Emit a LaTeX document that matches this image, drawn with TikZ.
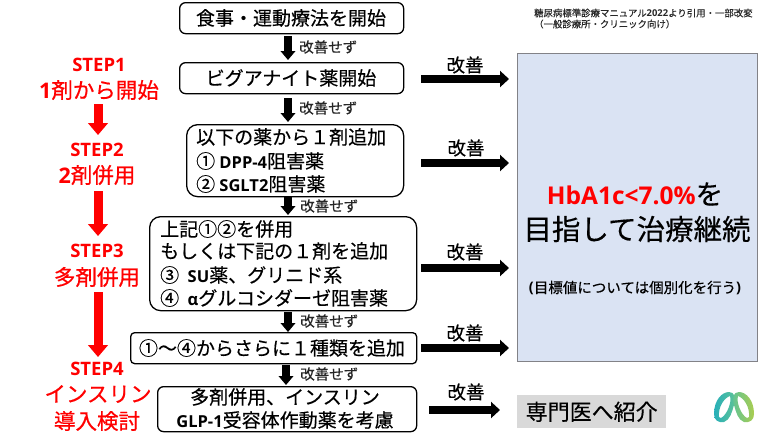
\documentclass[tikz,border=0pt]{standalone}
\usepackage{fontspec}
\setmainfont{Noto Sans CJK JP}[FakeBold=0.35]
\newfontfamily\lat{Open Sans}[BoldFont={Open Sans Bold}]
\newfontfamily\jpbold{Noto Sans CJK JP}[FakeBold=0.6]
\usetikzlibrary{arrows.meta}
\definecolor{panel}{RGB}{218,227,243}
\definecolor{panelb}{RGB}{130,130,135}
\definecolor{refer}{RGB}{217,217,217}
\definecolor{logoteal}{RGB}{40,175,185}
\definecolor{logomid}{RGB}{95,195,150}
\definecolor{logogreen}{RGB}{170,205,80}
\newcommand{\B}[1]{{\lat\bfseries #1}}
\newcommand{\LL}[1]{{\lat\bfseries\fontsize{16.5}{16.5}\selectfont #1}}
\tikzset{
  x=1pt,y=-1pt,
  flow/.style={draw=black,line width=1.3pt,rounded corners=#1,anchor=north west,inner sep=0,fill=white},
  flow/.default=6pt,
  txt/.style={font=\fontsize{19}{19}\selectfont,inner sep=0,text=black},
  lefttxt/.style={txt,anchor=west},
  gai/.style={font=\fontsize{14.5}{14.5}\selectfont,inner sep=0,anchor=west,text=black!85},
  kai/.style={font=\fontsize{18.5}{18.5}\selectfont,inner sep=0,text=black},
  redtxt/.style={font=\fontsize{21.5}{21.5}\selectfont\jpbold,inner sep=0,text=red},
  redstep/.style={font=\fontsize{18.5}{18.5}\selectfont\lat\bfseries,inner sep=0,text=red},
  down/.style={-{Triangle[length=9pt,width=14.5pt]},line width=7.5pt,black},
  reddown/.style={-{Triangle[length=12pt,width=19.5pt]},line width=9pt,red},
  right/.style={-{Triangle[length=9pt,width=16pt]},line width=8.5pt,black},
}
\begin{document}
\begin{tikzpicture}
\useasboundingbox (0,0) rectangle (768,432);
% boxes
\node[flow,minimum width=224pt,minimum height=31pt] (b1) at (179,2) {};
\node[flow,minimum width=224pt,minimum height=31pt] (b2) at (179,62) {};
\node[flow=11pt,minimum width=217pt,minimum height=72pt] (b3) at (186,124) {};
\node[flow=11pt,minimum width=267pt,minimum height=94pt] (b4) at (149,216) {};
\node[flow=4pt,minimum width=286pt,minimum height=31pt] (b5) at (130,332) {};
\node[flow=6pt,minimum width=259pt,minimum height=45pt] (b6) at (157,386) {};
% box texts
\node[txt] (t1) at (291,18) {食事・運動療法を開始};
\node[txt] (t2) at (291,78) {ビグアナイト薬開始};
\node[lefttxt] (t3a) at (196,137) {以下の薬から１剤追加};
\node[lefttxt] (t3b) at (196,161) {①\ \LL{DPP-4}阻害薬};
\node[lefttxt] (t3c) at (196,184) {②\ \LL{SGLT2}阻害薬};
\node[lefttxt] (t4a) at (160,229) {上記①②を併用};
\node[lefttxt] (t4b) at (160,251) {もしくは下記の１剤を追加};
\node[lefttxt] (t4c) at (160,275) {③\ \ \LL{SU}薬、グリニド系};
\node[lefttxt] (t4d) at (160,298) {④\ \ \LL{α}グルコシダーゼ阻害薬};
\node[txt] (t5) at (272,348) {①～④からさらに１種類を追加};
\node[txt] (t6a) at (285,397) {多剤併用、インスリン};
\node[txt] (t6b) at (285,420) {\LL{GLP-1}受容体作動薬を考慮};
% down arrows
\draw[down] (288,36) -- (288,60);
\draw[down] (288,98) -- (288,122);
\draw[down] (288,197) -- (288,215);
\draw[down] (288,312) -- (288,332);
\draw[down] (286,365) -- (286,385);
\node[gai] (g1) at (299,47) {改善せず};
\node[gai] (g2) at (299,108) {改善せず};
\node[gai] (g3) at (300,206) {改善せず};
\node[gai] (g4) at (300,321) {改善せず};
\node[gai] (g5) at (300,374) {改善せず};
% steps
\node[redstep] (s1a) at (99,65) {STEP1};
\node[redtxt] (s1b) at (99,90) {\B{1}剤から開始};
\node[redstep] (s2a) at (97,150) {STEP2};
\node[redtxt] (s2b) at (97,175) {\B{2}剤併用};
\node[redstep] (s3a) at (97,251) {STEP3};
\node[redtxt] (s3b) at (97,277) {多剤併用};
\node[redstep] (s4a) at (97,369) {STEP4};
\node[redtxt] (s4b) at (98,394) {インスリン};
\node[redtxt] (s4c) at (97,421) {導入検討};
\draw[reddown] (98,104) -- (98,135);
\draw[reddown] (98,191) -- (98,236);
\draw[reddown] (98,292) -- (98,357);
% right arrows
\foreach \n/\y/\lx/\ly in {1/79/465/65,2/163/466/148,3/268/465/252,4/348/465/333}{
  \coordinate (rs\n) at (421,\y);
  \coordinate (re\n) at (509,\y);
  \draw[right] (rs\n) -- (re\n);
  \node[kai] (k\n) at (\lx,\ly) {改善};
}
\coordinate (rs5) at (429,410);
\coordinate (re5) at (500,410);
\draw[right] (rs5) -- (re5);
\node[kai] (k5) at (466,392) {改善};
% panel
\node[draw=panelb,line width=0.8pt,fill=panel,anchor=north west,inner sep=0,minimum width=240pt,minimum height=308pt] (panel) at (517,53) {};
\node[inner sep=0,font=\fontsize{27.5}{27.5}\selectfont] (p1) at (635,194) {\textcolor{red}{\lat\bfseries\fontsize{24.5}{24.5}\selectfont HbA1c<7.0\%}を};
\node[inner sep=0,font=\fontsize{28.5}{28.5}\selectfont] (p2) at (637,229) {目指して治療継続};
\node[inner sep=0,font=\fontsize{14.5}{14.5}\selectfont] (p3) at (635,288) {\B{(}目標値については個別化を行う\B{)}};
% referral
\node[fill=refer,inner sep=0,minimum width=149pt,minimum height=33pt,anchor=north west,font=\fontsize{22}{22}\selectfont] (ref) at (517,395) {専門医へ紹介};
% source
\node[inner sep=0,anchor=west,font=\fontsize{9.4}{9.4}\selectfont,text=black!85] (src1) at (534,13) {糖尿病標準診療マニュアル\B{2022}より引用・一部改変};
\node[inner sep=0,anchor=west,font=\fontsize{9.4}{9.4}\selectfont,text=black!85] (src2) at (534,24) {（一般診療所・クリニック向け）};
% logo
\path[even odd rule,left color=logoteal,right color=logomid]
  (714,414) .. controls (714,400) and (722,392) .. (729,392)
  .. controls (735,392) and (736,398) .. (734,405)
  .. controls (732,412) and (730,420) .. (724,422)
  .. controls (718,423) and (714,420) .. (714,414) -- cycle
  (719,417) .. controls (718,407) and (724,398) .. (730,396)
  .. controls (732,402) and (727,415) .. (721,418) -- cycle;
\path[even odd rule,left color=logomid,right color=logogreen]
  (754,414) .. controls (754,400) and (746,392) .. (739,392)
  .. controls (733,392) and (732,398) .. (734,405)
  .. controls (736,412) and (738,420) .. (744,422)
  .. controls (750,423) and (754,420) .. (754,414) -- cycle
  (749,417) .. controls (750,407) and (744,398) .. (738,396)
  .. controls (736,402) and (741,415) .. (747,418) -- cycle;
\end{tikzpicture}
\end{document}
